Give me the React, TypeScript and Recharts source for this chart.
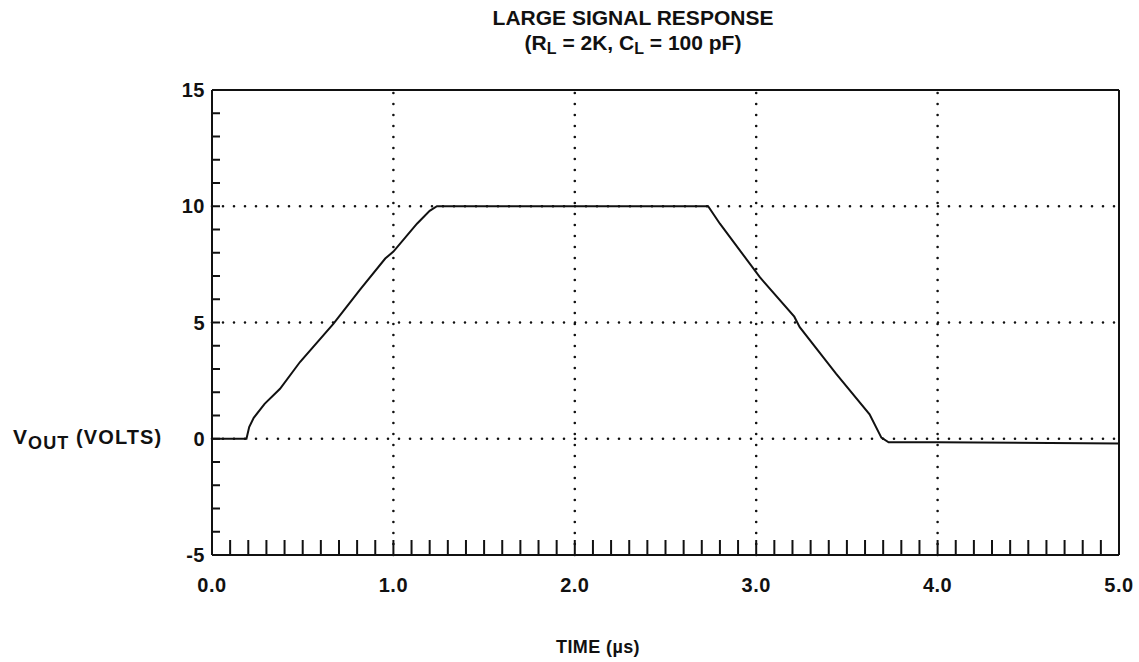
import React from 'react'
import { LineChart, Line, XAxis, YAxis, ReferenceLine } from 'recharts'

// scope trace: time in µs, output in volts
const timeUs = [
  0, 0.19, 0.205, 0.23, 0.29, 0.375, 0.485, 0.67, 0.815, 0.955, 1.0, 1.13, 1.2, 1.24, 2.0, 2.735,
  2.8, 3.02, 3.21, 3.24, 3.44, 3.625, 3.69, 3.73, 4.0, 5.0,
]
const voutVolts = [
  0, 0, 0.5, 0.9, 1.5, 2.15, 3.3, 4.95, 6.4, 7.75, 8.05, 9.25, 9.8, 10.0, 10.0, 10.0, 9.25, 6.95,
  5.25, 4.8, 2.8, 1.05, 0.05, -0.15, -0.15, -0.2,
]

const timeTicks = [0, 1, 2, 3, 4, 5]
const timeMinorTicks = [
  0, 0.1, 0.2, 0.3, 0.4, 0.5, 0.6, 0.7, 0.8, 0.9, 1, 1.1, 1.2, 1.3, 1.4, 1.5, 1.6, 1.7, 1.8, 1.9, 2,
  2.1, 2.2, 2.3, 2.4, 2.5, 2.6, 2.7, 2.8, 2.9, 3, 3.1, 3.2, 3.3, 3.4, 3.5, 3.6, 3.7, 3.8, 3.9, 4,
  4.1, 4.2, 4.3, 4.4, 4.5, 4.6, 4.7, 4.8, 4.9, 5,
]
const voltTicks = [-5, 0, 5, 10, 15]
const voltMinorTicks = [-5, -4, -3, -2, -1, 0, 1, 2, 3, 4, 5, 6, 7, 8, 9, 10, 11, 12, 13, 14, 15]
const timeGrid = [1, 2, 3, 4]
const voltGrid = [0, 5, 10]
const timeMax = 5
const voltMax = 15

const data = timeUs.map((t, i) => ({ t, v: voutVolts[i] }))

const font = '"Liberation Sans", Arial, Helvetica, sans-serif'
const ink = '#111'
const dotted = { stroke: ink, strokeWidth: 2.6, strokeDasharray: '0 11', strokeLinecap: 'round' as const }
const solid = { stroke: ink, strokeWidth: 2 }
const tickFont = { fill: ink, fontSize: 20, fontWeight: 700, fontFamily: font, letterSpacing: 0.5 }

// minor axes keep their tick marks but draw no label
const NoLabel = () => <g />

export default function App() {
  return (
    <div
      style={{
        position: 'absolute',
        left: 0,
        top: 0,
        width: 1139,
        height: 662,
        background: '#fff',
        fontFamily: font,
        fontWeight: 700,
        color: ink,
      }}
    >
      <div style={{ position: 'absolute', left: 433, width: 400, top: 5, textAlign: 'center', fontSize: 21, lineHeight: '25px' }}>
        LARGE SIGNAL RESPONSE
        <br />
        (R<sub style={{ fontSize: 16, verticalAlign: '-4px' }}>L</sub> = 2K, C
        <sub style={{ fontSize: 16, verticalAlign: '-4px' }}>L</sub> = 100 pF)
      </div>
      <div style={{ position: 'absolute', left: 13, top: 425, fontSize: 20, whiteSpace: 'nowrap', letterSpacing: 1.1 }}>
        <span style={{ fontSize: 21 }}>V</span>
        <sub style={{ fontSize: 18, verticalAlign: '-5px' }}>OUT</sub> (VOLTS)
      </div>
      <div style={{ position: 'absolute', left: 498, width: 200, top: 637, textAlign: 'center', fontSize: 18, letterSpacing: 0.4 }}>
        TIME (µs)
      </div>

      <div style={{ position: 'absolute', left: 0, top: 0 }}>
        <LineChart width={1139} height={662} data={data} margin={{ top: 90, right: 20, bottom: 67, left: 152 }}>
          <XAxis
            xAxisId="xMinor"
            dataKey="t"
            type="number"
            domain={[0, 5]}
            allowDataOverflow
            ticks={timeMinorTicks}
            interval={0}
            mirror
            height={1}
            tick={NoLabel}
            tickSize={15}
            axisLine={false}
            tickLine={{ stroke: ink, strokeWidth: 2 }}
          />
          <XAxis
            xAxisId="x"
            dataKey="t"
            type="number"
            domain={[0, 5]}
            allowDataOverflow
            ticks={timeTicks}
            interval={0}
            height={40}
            tickFormatter={(v: number) => v.toFixed(1)}
            tickLine={false}
            tickSize={8}
            tickMargin={15}
            axisLine={solid}
            tick={tickFont}
          />
          <YAxis
            yAxisId="yMinor"
            type="number"
            domain={[-5, 15]}
            allowDataOverflow
            ticks={voltMinorTicks}
            interval={0}
            mirror
            width={1}
            tick={NoLabel}
            tickSize={8}
            axisLine={false}
            tickLine={{ stroke: ink, strokeWidth: 2 }}
          />
          <YAxis
            yAxisId="y"
            type="number"
            domain={[-5, 15]}
            allowDataOverflow
            ticks={voltTicks}
            interval={0}
            width={60}
            tickLine={false}
            tickSize={2}
            tickMargin={5}
            axisLine={solid}
            tick={tickFont}
          />

          {timeGrid.map((t) => (
            <ReferenceLine key={`vx${t}`} xAxisId="x" yAxisId="y" x={t} {...dotted} />
          ))}
          {voltGrid.map((v) => (
            <ReferenceLine key={`hy${v}`} xAxisId="x" yAxisId="y" y={v} {...dotted} />
          ))}
          <ReferenceLine xAxisId="x" yAxisId="y" x={timeMax} {...solid} />
          <ReferenceLine xAxisId="x" yAxisId="y" y={voltMax} {...solid} />

          {/* invisible copy so the minor-tick axes get a scale */}
          <Line
            xAxisId="xMinor"
            yAxisId="yMinor"
            type="linear"
            dataKey="v"
            stroke="none"
            dot={false}
            activeDot={false}
            legendType="none"
            isAnimationActive={false}
          />
          <Line
            xAxisId="x"
            yAxisId="y"
            type="linear"
            dataKey="v"
            stroke={ink}
            strokeWidth={2}
            dot={false}
            activeDot={false}
            isAnimationActive={false}
          />
        </LineChart>
      </div>
    </div>
  )
}
